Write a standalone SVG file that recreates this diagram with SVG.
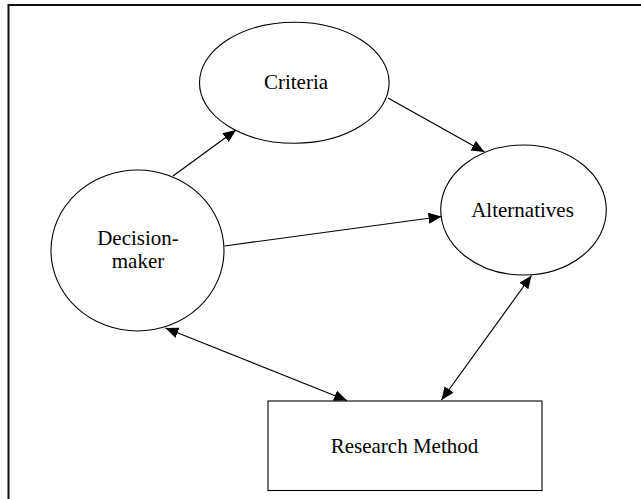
<svg xmlns="http://www.w3.org/2000/svg" width="641" height="499" viewBox="0 0 641 499">
<style>
.shape{fill:#fff;stroke:#000;stroke-width:1.1}
.lbl{font-family:"Liberation Serif","Times New Roman",serif;font-size:21px;fill:#000;text-anchor:middle}
.conn{stroke:#000;stroke-width:1.2;fill:none}
</style>
<defs>
<marker id="ah" markerUnits="userSpaceOnUse" markerWidth="14" markerHeight="12" refX="13" refY="5.5" orient="auto-start-reverse" viewBox="0 0 14 12">
<path d="M0,0 L13,5.5 L0,11 z" fill="#000"/>
</marker>
</defs>
<rect width="641" height="499" fill="#fff"/>
<path d="M8.5,499 V5 H641" fill="none" stroke="#111" stroke-width="2"/>
<g id="criteria">
<ellipse class="shape" cx="294.3" cy="82.8" rx="94.8" ry="60.5"/>
<text class="lbl" x="296" y="89">Criteria</text>
</g>
<g id="decision-maker">
<ellipse class="shape" cx="137.5" cy="250.5" rx="86.5" ry="80.5"/>
<text class="lbl" x="138" y="245">Decision-</text>
<text class="lbl" x="138" y="268">maker</text>
</g>
<g id="alternatives">
<ellipse class="shape" cx="523.5" cy="210" rx="82.8" ry="65"/>
<text class="lbl" x="522.5" y="217">Alternatives</text>
</g>
<g id="research-method">
<rect class="shape" x="268" y="401" width="274" height="89.5" stroke-width="1.3"/>
<text class="lbl" x="404.5" y="453">Research Method</text>
</g>
<g id="connectors">
<line class="conn" x1="173" y1="176" x2="236" y2="130" marker-end="url(#ah)"/>
<line class="conn" x1="388" y1="98" x2="484.5" y2="152" marker-end="url(#ah)"/>
<line class="conn" x1="224.5" y1="246" x2="441.5" y2="216.5" marker-end="url(#ah)"/>
<line class="conn" x1="165.5" y1="328" x2="347" y2="400.5" marker-start="url(#ah)" marker-end="url(#ah)"/>
<line class="conn" x1="531.5" y1="275.5" x2="441.5" y2="400" marker-start="url(#ah)" marker-end="url(#ah)"/>
</g>
</svg>
